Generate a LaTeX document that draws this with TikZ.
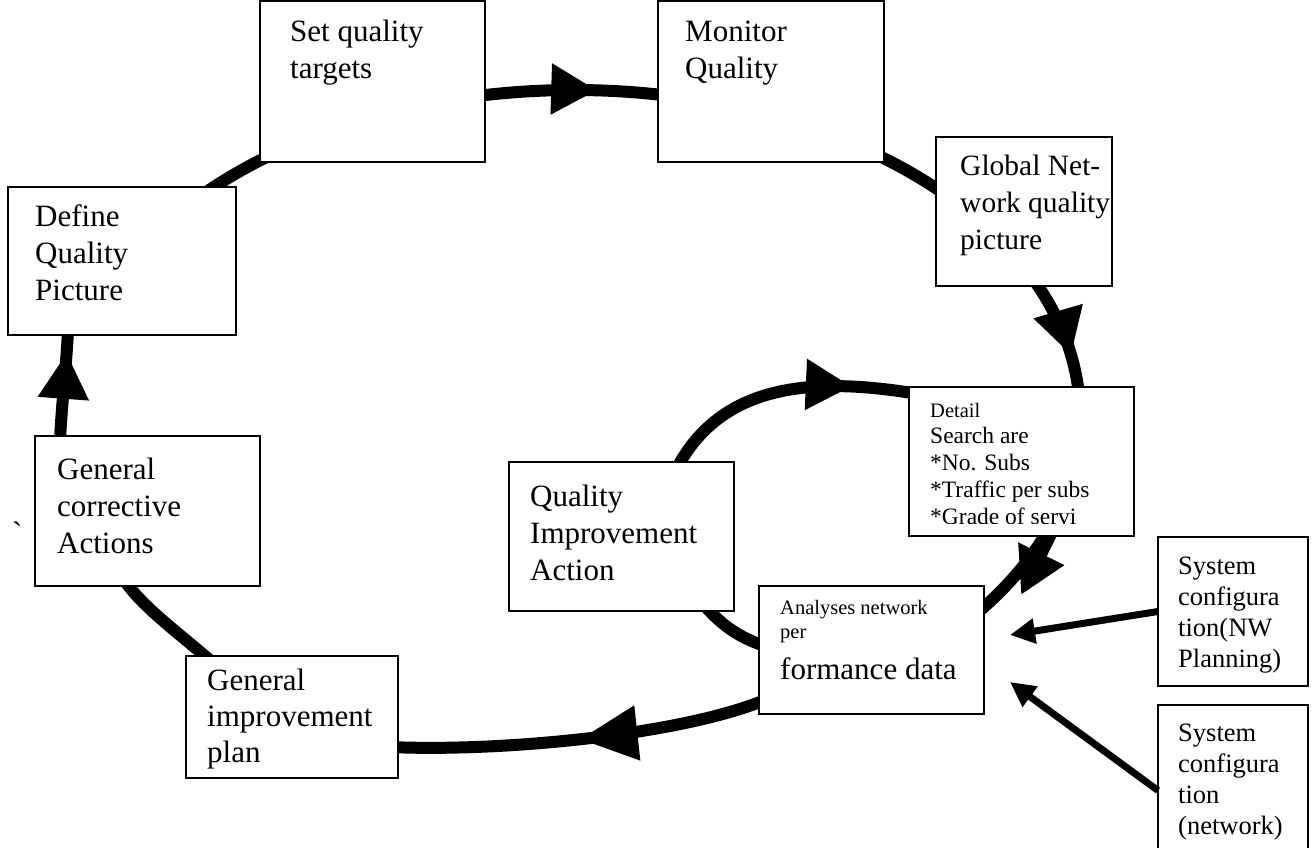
\documentclass[tikz,border=0pt]{standalone}
\usepackage{fontspec}
\setmainfont{Liberation Serif}
\usetikzlibrary{arrows.meta,decorations.markings,calc,backgrounds}
% zero-width strut fixing the top of every text block at 0.9em above its first baseline
\newcommand\tp{\rule{0pt}{0.9em}}
\begin{document}
\begin{tikzpicture}[x=1pt,y=-1pt,
  box/.style={draw, line width=2.2pt, fill=white, anchor=north west, inner sep=0pt, outer sep=0pt},
  txt/.style={anchor=north west, inner sep=0pt, align=left},
  big/.style={txt, font=\fontsize{31}{37}\selectfont},
  mid/.style={txt, font=\fontsize{26.5}{31}\selectfont},
  small/.style={txt, font=\fontsize{23.5}{27}\selectfont},
  tiny/.style={txt, font=\fontsize{20.5}{24}\selectfont},
  flow/.style={line width=12pt},
  feed/.style={line width=7pt, -{Triangle[length=25pt,width=24pt]}},
  tipat/.style={postaction={decorate,decoration={markings,
      mark=at position #1 with {\arrow{Triangle[length=46pt,width=48pt]}}}}},
  bigtipat/.style={postaction={decorate,decoration={markings,
      mark=at position #1 with {\arrow{Triangle[length=58pt,width=52pt]}}}}},
  loop/.style={x radius=506, y radius=326},
]
\useasboundingbox (0,0) rectangle (1315,848);

% centre of the outer quality cycle
\coordinate (oc) at (574,416);

% ---- boxes ----
\node[box, minimum width=225pt, minimum height=161pt] (setq) at (260,1) {};
\node[box, minimum width=226pt, minimum height=161pt] (monq) at (658,1) {};
\node[box, minimum width=176pt, minimum height=149pt] (glob) at (936,137) {};
\node[box, minimum width=228pt, minimum height=148pt] (defq) at (8,187) {};
\node[box, minimum width=225pt, minimum height=150pt] (corr) at (35,436) {};
\node[box, minimum width=225pt, minimum height=149pt] (qia)  at (509,462) {};
\node[box, minimum width=225pt, minimum height=149pt] (det)  at (909,387) {};
\node[box, minimum width=225pt, minimum height=128pt] (ana)  at (759,586) {};
\node[box, minimum width=212pt, minimum height=122pt] (gimp) at (186,656) {};
\node[box, minimum width=150pt, minimum height=149pt] (nwp)  at (1158,537) {};
\node[box, minimum width=150pt, minimum height=147pt] (nwk)  at (1158,705) {};

% ---- texts ----
\node[big] (setqT) at (290,13)  {\tp Set quality\\targets};
\node[big] (monqT) at (685,13)  {\tp Monitor\\Quality};
\node[big, font=\fontsize{29.5}{37}\selectfont] (globT) at (960,149) {\tp Global Net-\\work quality\\picture};
\node[big] (defqT) at (35,198)  {\tp Define\\Quality\\Picture};
\node[big] (corrT) at (57,451)  {\tp General\\corrective\\Actions};
\node[big] (qiaT)  at (530,478) {\tp Quality\\Improvement\\Action};
\node[big, font=\fontsize{31}{36}\selectfont] (gimpT) at (207,662) {\tp General\\improvement\\plan};
\node[tiny] (anaA) at (780,596) {\tp Analyses network\\per};
\node[big]  (anaB) at (780,651) {\tp formance data};
\node[tiny] (detA) at (930,399) {\tp Detail};
\begin{scope}
  \clip (det.north west) rectangle ($(det.east)+(0,62)$);
  \node[small] (detB) at (930,422) {\tp Search are\\*No. Subs\\*Traffic per subs\\*Grade of servi};
\end{scope}
\node[mid] (nwpT) at (1178,550) {\tp System\\configura\\tion(NW\\Planning)};
\node[mid] (nwkT) at (1178,717) {\tp System\\configura\\tion\\(network)};
\node[anchor=base west, inner sep=0pt, font=\fontsize{31}{37}\selectfont] (tick) at (12,543) {\textasciigrave};

% ---- connectors, drawn beneath the boxes ----
\begin{scope}[on background layer]
  % outer cycle
  \draw[flow, tipat=0.62] ($(oc)+({506*cos(-101)},{326*sin(-101)})$) arc[start angle=-101, end angle=-79, loop];
  \draw[flow] ($(oc)+({506*cos(-54)},{326*sin(-54)})$) arc[start angle=-54, end angle=-42, loop];
  \draw[flow, tipat=0.66] ($(oc)+({506*cos(-25)},{326*sin(-25)})$) arc[start angle=-25, end angle=-3, loop];
  \draw[flow] ($(oc)+({506*cos(20)},{326*sin(20)})$) arc[start angle=20, end angle=38, loop];
  \draw[flow, -{Triangle[length=46pt,width=48pt]}] ($(det.south west)+(143,-4)$) -- ($(ana.east)+(37,-55)$);
  \draw[flow, bigtipat=0.5] ($(ana.west)+(6,50)$) .. controls (680,735) and (500,752) .. ($(gimp.east)+(-8,30)$);
  \draw[flow] ($(gimp.north west)+(26,6)$) .. controls (175,630) and (140,605) .. ($(corr.south west)+(88,-8)$);
  \draw[flow, tipat=0.8] ($(corr.north west)+(25,4)$) .. controls (62,400) and (66,370) .. ($(defq.south west)+(60,-4)$);
  \draw[flow] ($(oc)+({506*cos(-138)},{326*sin(-138)})$) arc[start angle=-138, end angle=-126, loop];
  % inner improvement cycle
  \draw[flow, tipat=0.77] ($(qia.north west)+(169,4)$) .. controls (720,390) and (800,375) .. ($(det.north west)+(3,6)$);
  \draw[flow] ($(qia.south east)+(-34,-11)$) .. controls (720,625) and (740,638) .. ($(ana.west)+(6,-4)$);
\end{scope}

% ---- configuration inputs ----
\draw[feed] (nwp.west) -- ($(ana.east)+(26,-15)$);
\draw[feed] ($(nwk.west)+(0,12)$) -- ($(ana.east)+(26,32)$);
\end{tikzpicture}
\end{document}
